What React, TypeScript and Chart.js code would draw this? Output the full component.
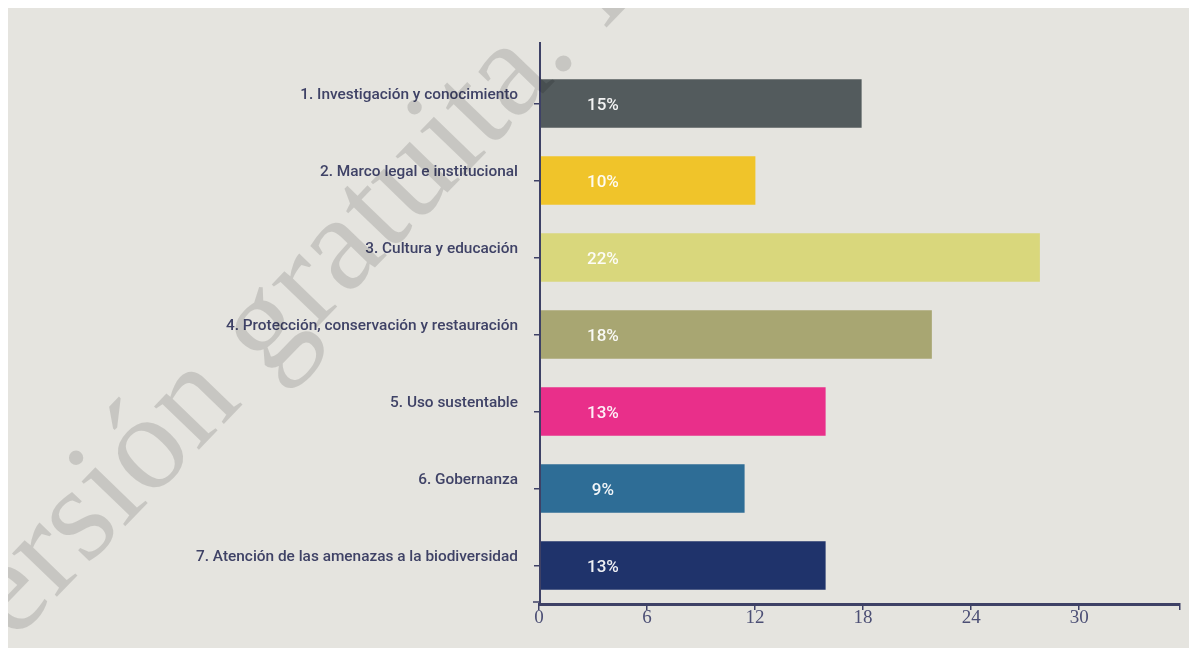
import React, { useEffect, useRef } from "react";
import { Chart, registerables } from "chart.js";

Chart.register(...registerables);

const CATEGORIES = [
  "1. Investigación y conocimiento",
  "2. Marco legal e institucional",
  "3. Cultura y educación",
  "4. Protección, conservación y restauración",
  "5. Uso sustentable",
  "6. Gobernanza",
  "7. Atención de las amenazas a la biodiversidad",
];
const VALUES = [17.9, 12, 27.8, 21.8, 15.9, 11.4, 15.9];
const PERCENT_LABELS = ["15%", "10%", "22%", "18%", "13%", "9%", "13%"];
const BAR_COLORS = ["#535b5d", "#f0c42a", "#d9d77c", "#a8a672", "#e92f8a", "#2e6d96", "#1f336b"];
const X_TICKS = [0, 6, 12, 18, 24, 30];
const X_MAX = 35.6;
const LABEL_AT = 3.55;
const WATERMARK = "Versión gratuita. Prohibida su venta";
const WATERMARK_ANCHOR = "Versión gratuita";

const AXIS_COLOR = "#3e4166";
const BG = "#e5e4df";

const decorPlugin = {
  id: "decor",
  afterDatasetsDraw(chart: any) {
    const { ctx, chartArea, scales } = chart;
    const meta = chart.getDatasetMeta(0);
    ctx.save();
    // percent labels
    ctx.font = "500 17px Roboto, 'Liberation Sans', sans-serif";
    ctx.fillStyle = "rgba(255,255,255,0.93)";
    ctx.textAlign = "center";
    ctx.textBaseline = "middle";
    meta.data.forEach((bar: any, i: number) => {
      ctx.fillText(PERCENT_LABELS[i], scales.x.getPixelForValue(LABEL_AT), bar.y + 2);
    });
    // y axis line, extended above the chart area
    ctx.strokeStyle = AXIS_COLOR;
    ctx.lineWidth = 2;
    ctx.beginPath();
    ctx.moveTo(chartArea.left + 1, 34);
    ctx.lineTo(chartArea.left + 1, chartArea.bottom);
    ctx.stroke();
    ctx.lineWidth = 1.5;
    ctx.beginPath();
    ctx.moveTo(chartArea.left - 6, chartArea.bottom - 2);
    ctx.lineTo(chartArea.left, chartArea.bottom - 2);
    ctx.stroke();
    ctx.restore();
  },
  afterDraw(chart: any) {
    const { ctx } = chart;
    ctx.save();
    const size = 136;
    ctx.font = `${size}px 'Liberation Serif', serif`;
    const w = ctx.measureText(WATERMARK_ANCHOR).width;
    const theta = (-46 * Math.PI) / 180;
    const c = Math.cos(theta);
    const s = Math.sin(theta);
    const u = w + size * 0.125;
    const v = -size * 0.05;
    const px = 555;
    const py = 55;
    const ox = px - (u * c - v * s);
    const oy = py - (u * s + v * c);
    ctx.translate(ox, oy);
    ctx.rotate(theta);
    ctx.fillStyle = "rgba(0,0,0,0.13)";
    ctx.textAlign = "left";
    ctx.textBaseline = "alphabetic";
    ctx.fillText(WATERMARK, 0, 0);
    ctx.restore();
  },
};

export default function App() {
  const canvasRef = useRef<HTMLCanvasElement | null>(null);

  useEffect(() => {
    if (!canvasRef.current) return;
    const chart = new Chart(canvasRef.current, {
      type: "bar",
      data: {
        labels: CATEGORIES,
        datasets: [
          {
            data: VALUES,
            backgroundColor: BAR_COLORS,
            borderWidth: 0,
            barThickness: 48,
          },
        ],
      },
      options: {
        indexAxis: "y",
        animation: false,
        responsive: true,
        maintainAspectRatio: false,
        layout: { padding: { top: 57, right: 17, bottom: 0, left: 0 } },
        plugins: { legend: { display: false }, tooltip: { enabled: false } },
        scales: {
          x: {
            type: "linear",
            min: 0,
            max: X_MAX,
            afterBuildTicks: (scale: any) => {
              scale.ticks = [...X_TICKS, X_MAX].map((v) => ({ value: v }));
            },
            afterFit: (scale: any) => {
              scale.height = 44;
            },
            border: { display: true, color: AXIS_COLOR, width: 3 },
            grid: {
              drawOnChartArea: false,
              drawTicks: true,
              tickLength: 6,
              color: AXIS_COLOR,
              lineWidth: 1.5,
            },
            ticks: {
              padding: -3,
              color: "#4c4f75",
              autoSkip: false,
              maxRotation: 0,
              font: { family: "'Liberation Serif', serif", size: 19 },
              callback: (v: any) => (X_TICKS.includes(Number(v)) ? String(v) : ""),
            },
          },
          y: {
            type: "category",
            afterFit: (scale: any) => {
              scale.width = 531;
            },
            border: { display: false },
            grid: {
              offset: false,
              drawOnChartArea: false,
              drawTicks: true,
              tickLength: 5,
              color: AXIS_COLOR,
              lineWidth: 1.5,
            },
            ticks: {
              padding: 16,
              labelOffset: -8,
              color: "#3f4266",
              font: { family: "Roboto, 'Liberation Sans', sans-serif", size: 15.4, weight: "500" },
            },
          },
        },
      },
      plugins: [decorPlugin],
    } as any);
    return () => chart.destroy();
  }, []);

  return (
    <div style={{ width: 1189, height: 640, background: BG, position: "relative" }}>
      <canvas ref={canvasRef} />
    </div>
  );
}
